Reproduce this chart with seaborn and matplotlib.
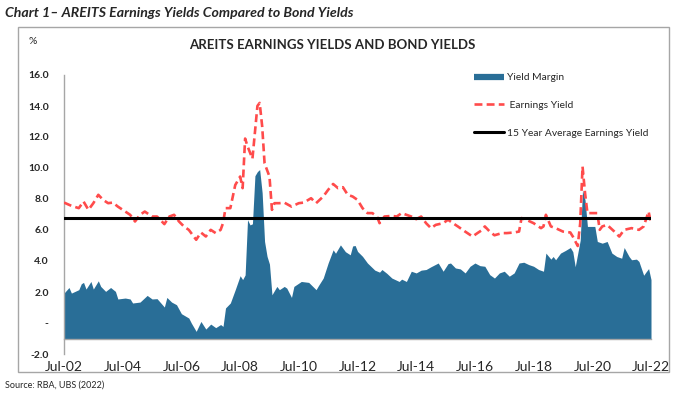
import matplotlib.pyplot as plt
import numpy as np
import pandas as pd
import seaborn as sns
from matplotlib.lines import Line2D
from matplotlib.patches import Rectangle

# months counted from Jul-02, values in %
ey_months = [0, 3, 6, 8, 10, 12, 14, 16, 18, 20, 22, 24, 27, 29, 31, 33, 36, 38, 41, 43, 45, 47, 49, 51, 54, 56, 58,
             60, 62, 64, 65, 66, 68, 70, 72, 73, 74, 75, 77, 79, 80, 81, 82, 84, 85, 86, 88, 90, 93, 96, 98, 101, 103,
             106, 108, 110, 112, 114, 116, 118, 120, 122, 124, 126, 128, 129, 131, 134, 136, 138, 140, 142, 144, 146,
             148, 150, 152, 155, 157, 159, 161, 164, 167, 169, 171, 172, 174, 176, 179, 181, 184, 186, 187, 189, 192,
             195, 196, 197, 199, 201, 204, 207, 208, 210, 211, 212, 213, 214, 216, 218, 219, 220, 222, 225, 227, 229,
             232, 235, 237, 239, 240]
earnings_yield = [7.77, 7.56, 7.41, 7.84, 7.30, 7.73, 8.27, 7.94, 7.73, 7.77, 7.51, 7.30, 6.98, 6.55, 6.98, 7.19, 6.87,
                  6.87, 6.38, 6.87, 6.98, 6.55, 6.23, 6.01, 5.37, 5.84, 5.58,
                  6.01, 5.80, 6.01, 6.44, 7.41, 7.41, 8.90, 9.45, 8.70, 11.9, 11.4, 10.6, 14.0, 14.2, 12.7, 10.3, 9.45,
                  7.30, 7.73, 7.73, 7.77, 7.51, 7.73, 7.77, 8.05, 7.73,
                  8.16, 8.59, 8.97, 8.70, 8.76, 8.27, 8.16, 7.94, 7.41, 7.09, 7.09, 6.87, 6.44, 6.87, 6.91, 6.87, 7.09,
                  6.98, 6.87, 6.70, 6.87,
                  6.44, 6.12, 6.33, 6.44, 6.66, 6.44, 6.23, 5.90, 5.58, 5.80, 6.01, 6.23, 5.90, 5.66, 5.80, 5.80, 5.84,
                  5.90, 6.77, 6.66, 6.44,
                  6.12, 6.23, 6.98, 6.23, 6.12, 5.90, 5.84, 5.58, 4.97, 6.44, 10.09, 8.40, 7.09, 7.09, 7.09, 6.01, 6.23,
                  6.33, 5.90, 5.58, 6.01,
                  6.12, 6.01, 6.23, 7.19, 6.44]

ym_months = [0, 2, 3, 6, 7, 8, 9, 11, 12, 14, 15, 17, 19, 21, 22, 25, 27, 28, 31, 34, 36, 38, 41, 42, 44, 46, 48, 51,
             52, 54, 56, 58, 60, 62, 64, 65, 66, 68, 70, 72, 73, 74, 75, 76, 77, 78, 79, 80, 81, 82, 83, 84, 85, 87,
             88, 90, 91, 93, 94, 97, 100, 103, 104, 106, 108, 110, 111, 113, 115, 117, 118, 119, 120, 122, 124, 127,
             129, 130, 132, 134, 137, 138, 140, 142, 144, 146, 148, 150, 153, 155, 157, 158, 160, 162, 164, 166, 168,
             170, 172, 174, 176, 178, 180, 182, 184, 186, 188, 190, 192, 194, 196, 197, 199, 200, 201, 203, 205, 207,
             208, 209, 211, 212, 213, 214, 217, 218, 220, 222, 224, 226, 228, 229, 231, 232, 234, 235, 237, 238, 239,
             240]
yield_margin = [1.93, 2.29, 1.93, 2.15, 2.53, 2.62, 2.19, 2.68, 2.19, 2.72, 2.36, 2.04, 2.29, 2.04, 1.55, 1.61, 1.55,
                1.29, 1.35, 1.78, 1.55, 1.57, 1.03, 1.65, 1.35, 1.18, 0.60, 0.32,
                0.00, -0.54, 0.10, -0.39, -0.07, -0.30, -0.10, -0.22, 0.97, 1.29, 2.15, 3.05, 2.80, 3.10, 6.66, 6.33,
                6.40, 9.50, 9.77, 9.90, 8.40, 5.26, 4.30, 3.80, 1.82, 2.36,
                2.15, 2.36, 2.25, 1.65, 2.36, 2.68, 2.62, 2.15, 2.40, 2.90, 3.87, 4.72, 4.50, 5.04, 4.60, 4.40, 4.97,
                5.00, 4.62, 4.30, 3.87, 3.41,
                3.28, 3.45, 3.20, 2.90, 2.68, 2.83, 2.68, 3.34, 3.23, 3.41, 3.45, 3.63, 3.87, 3.34, 3.83, 3.87, 3.55,
                3.49, 3.23, 3.66, 3.87,
                3.70, 3.66, 3.12, 2.90, 3.23, 3.34, 3.02, 3.23, 3.87, 3.92, 3.77, 3.66, 3.45, 3.34, 4.51, 4.12, 4.29,
                4.08, 4.51, 4.68, 4.87,
                4.60, 3.63, 5.34, 8.59, 7.94, 6.23, 6.23, 5.26, 5.15, 5.26, 4.51, 4.29, 4.18, 4.87, 4.29, 4.08, 4.12,
                3.97, 3.08, 3.30, 3.51,
                2.80]

avg_earnings_yield = 6.77
tick_years = [2002, 2004, 2006, 2008, 2010, 2012, 2014, 2016, 2018, 2020, 2022]

BLUE = "#296E97"
RED = "#FF4B4B"
GREY = "#A6A6A6"

sns.set_style("white")
plt.rcParams["font.family"] = ["Lato", "DejaVu Sans"]

start = pd.Timestamp("2002-07-01")
ey = pd.DataFrame({"date": [start + pd.DateOffset(months=m) for m in ey_months], "value": earnings_yield})
ym = pd.DataFrame({"date": [start + pd.DateOffset(months=m) for m in ym_months], "value": yield_margin})

fig = plt.figure(figsize=(6.85, 3.99), dpi=100)
ax = fig.add_axes([64 / 685, 1 - 354 / 399, 587 / 685, 279 / 399])

ax.fill_between(ym["date"], -1, ym["value"], color=BLUE, linewidth=0, zorder=1)
sns.lineplot(data=ey, x="date", y="value", ax=ax, color=RED, linewidth=1.9, zorder=3)
ax.lines[-1].set_dashes((3, 1.6))
ax.axhline(avg_earnings_yield, color="black", linewidth=2.2, zorder=4)

ax.set_xlim(start, pd.Timestamp("2022-07-01"))
ax.set_ylim(-2, 16)
ax.set_xlabel("")
ax.set_ylabel("")

yt = np.arange(-2, 17, 2)
ax.set_yticks(yt)
ax.set_yticklabels(["-" if v == 0 else f"{v:.1f}" for v in yt], fontweight="bold", fontsize=7.5)

xt = [pd.Timestamp(f"{y}-07-01") for y in tick_years]
ax.set_xticks(xt)
ax.set_xticklabels([f"Jul-{y % 100:02d}" for y in tick_years], fontweight="bold", fontsize=7.5)

for s in ["top", "right"]:
    ax.spines[s].set_visible(False)
ax.spines["bottom"].set_position(("data", -1))
for s in ["left", "bottom"]:
    ax.spines[s].set_color(GREY)
    ax.spines[s].set_linewidth(1)
ax.tick_params(axis="x", direction="out", length=3.5, width=1, color=GREY, pad=12.5)
ax.tick_params(axis="y", direction="out", length=3, width=1, color=GREY, pad=8)

handles = [
    Line2D([], [], color=BLUE, linewidth=4.5, solid_capstyle="butt"),
    Line2D([], [], color=RED, linewidth=1.9, dashes=(3, 1.6)),
    Line2D([], [], color="black", linewidth=2.2),
]
labels = ["Yield Margin", " Earnings Yield", "15 Year Average Earnings Yield"]
fig.legend(handles, labels, loc="upper left", bbox_to_anchor=(474 / 685, 1 - 73 / 399), frameon=False,
           fontsize=7.4, handlelength=2.9, handletextpad=0.3, labelspacing=1.8, borderpad=0, borderaxespad=0)

fig.text(332 / 685, 1 - 45 / 399, "AREITS EARNINGS YIELDS AND BOND YIELDS", ha="center", va="center",
         fontsize=9.5, fontweight="bold")
fig.text(33 / 685, 1 - 41 / 399, "%", ha="center", va="center", fontsize=7.5)
fig.text(5 / 685, 1 - 13 / 399, "Chart 1\u2013 AREITS Earnings Yields Compared to Bond Yields", ha="left",
         va="center", fontsize=10.2, fontweight="bold", fontstyle="italic")
fig.text(5 / 685, 1 - 385 / 399, "Source: RBA, UBS (2022)", ha="left", va="center", fontsize=6.5)

fig.add_artist(Rectangle((18 / 685, 1 - 372 / 399), 651 / 685, 345 / 399, transform=fig.transFigure,
                         fill=False, edgecolor=GREY, linewidth=1))

fig.savefig("out.png", dpi=100)
